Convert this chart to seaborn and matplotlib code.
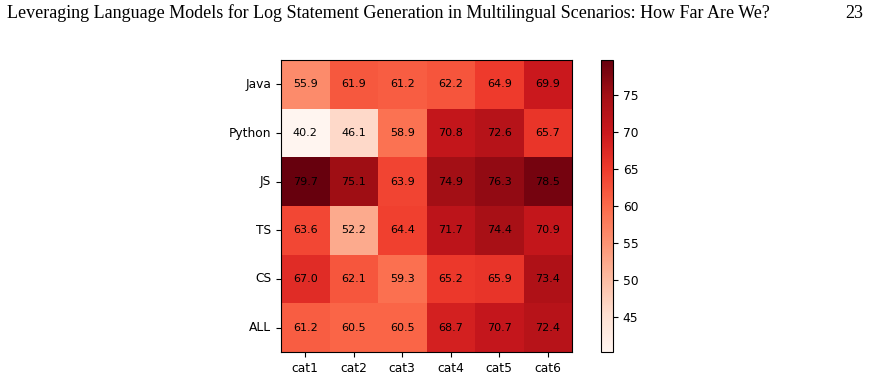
import matplotlib
matplotlib.use("Agg")
import matplotlib.pyplot as plt
import seaborn as sns
import pandas as pd

languages = ["Java", "Python", "JS", "TS", "CS", "ALL"]
categories = ["cat1", "cat2", "cat3", "cat4", "cat5", "cat6"]
java = [55.9, 61.9, 61.2, 62.2, 64.9, 69.9]
python = [40.2, 46.1, 58.9, 70.8, 72.6, 65.7]
js = [79.7, 75.1, 63.9, 74.9, 76.3, 78.5]
ts = [63.6, 52.2, 64.4, 71.7, 74.4, 70.9]
cs = [67.0, 62.1, 59.3, 65.2, 65.9, 73.4]
all_langs = [61.2, 60.5, 60.5, 68.7, 70.7, 72.4]

header = "Leveraging Language Models for Log Statement Generation in Multilingual Scenarios: How Far Are We?"
page_number = "23"

df = pd.DataFrame([java, python, js, ts, cs, all_langs], index=languages, columns=categories)

fig = plt.figure(figsize=(8.69, 3.76), dpi=100)
ax = fig.add_axes([281 / 869, 24 / 376, 291 / 869, 292 / 376])
cax = fig.add_axes([601 / 869, 24 / 376, 12 / 869, 292 / 376])

sns.heatmap(df, ax=ax, cbar_ax=cax, cmap="Reds", annot=True, fmt=".1f",
            annot_kws={"size": 8, "color": "black"}, square=False, linewidths=0)

# frame around the heatmap like plain imshow
for s in ax.spines.values():
  s.set_visible(True)
  s.set_linewidth(0.8)
ax.tick_params(axis="both", labelsize=8.8, length=3.5, width=0.8)
ax.set_yticklabels(languages, rotation=0)
ax.set_xticklabels(categories, rotation=0)
ax.set_xlabel("")
ax.set_ylabel("")

cbar = ax.collections[0].colorbar
cbar.outline.set_visible(True)
cbar.outline.set_linewidth(0.8)
cbar.outline.set_edgecolor("black")
cbar.set_ticks([45, 50, 55, 60, 65, 70, 75])
cax.tick_params(labelsize=8.8, length=3.5, width=0.8)

fig.text(7 / 869, 1 - 13 / 376, header, family="Liberation Serif", fontsize=13, va="center", ha="left")
fig.text(863 / 869, 1 - 13 / 376, page_number, family="Liberation Serif", fontsize=13, va="center", ha="right")

fig.savefig("out.png", dpi=100)
